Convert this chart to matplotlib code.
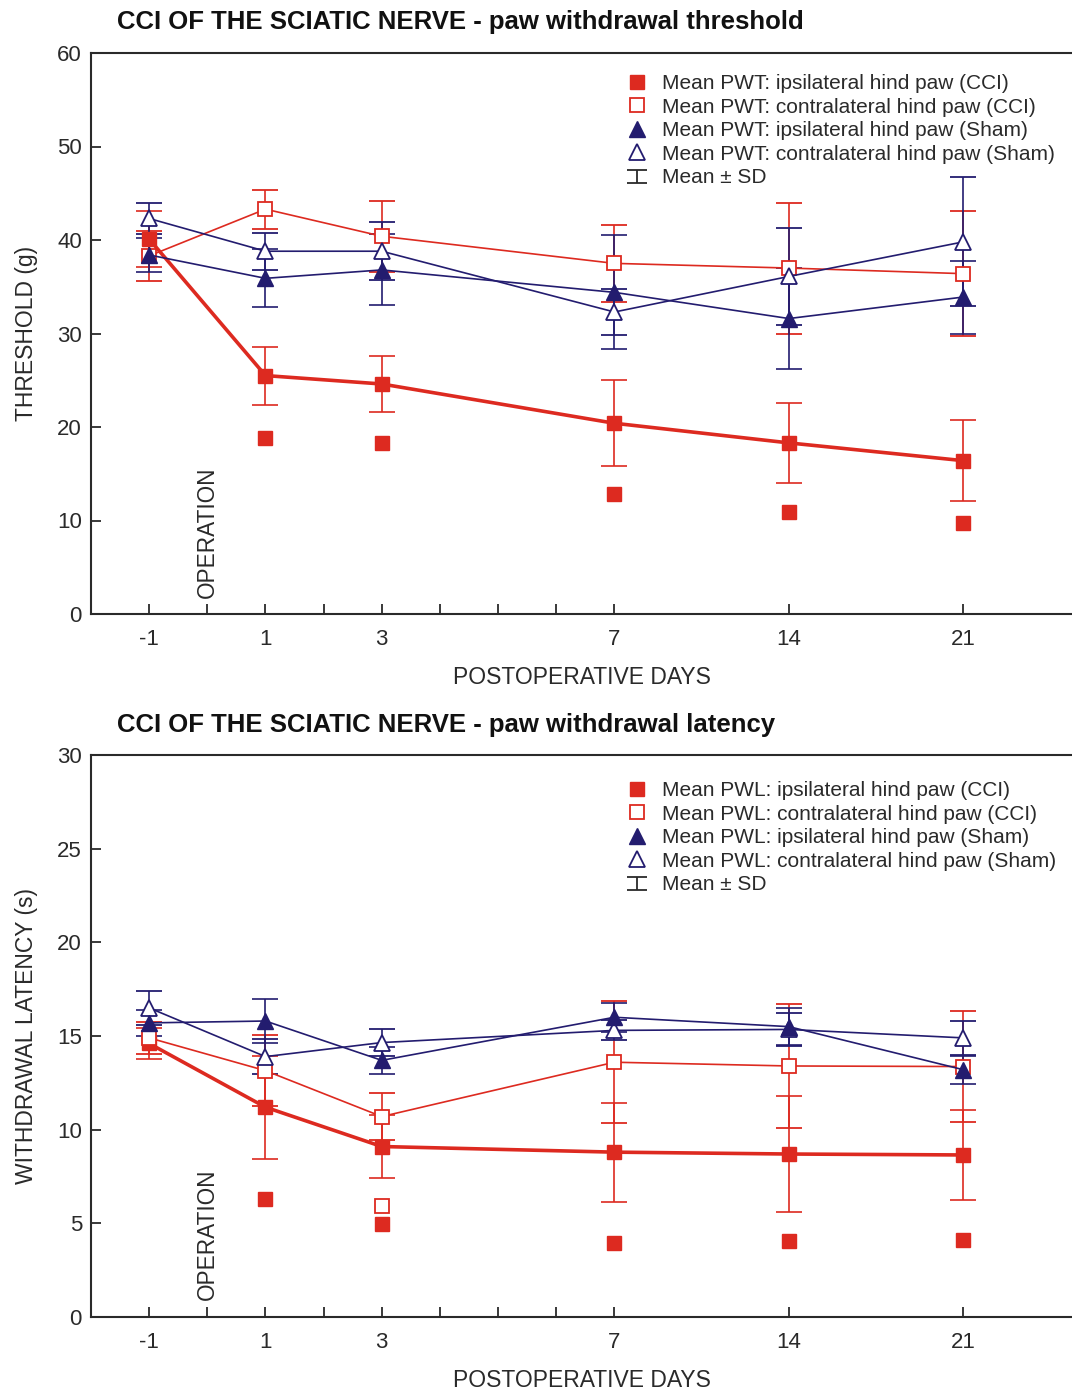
import numpy as np
import matplotlib
matplotlib.use("Agg")
import matplotlib.pyplot as plt
from matplotlib.lines import Line2D
from matplotlib.path import Path

plt.rcParams['font.family'] = ['Liberation Sans', 'DejaVu Sans']

# ---------------------------
# Data
# ---------------------------
days = [-1, 1, 3, 7, 14, 21]
nan = np.nan

# paw withdrawal threshold (g)
pwt_ipsi_cci = [40.1, 25.5, 24.6, 20.4, 18.3, 16.4]
pwt_ipsi_cci_sd = [3.0, 3.1, 3.0, 4.6, 4.3, 4.3]
pwt_ipsi_cci_low = [nan, 18.8, 18.3, 12.8, 10.9, 9.7]
pwt_contra_cci = [38.3, 43.3, 40.4, 37.5, 37.0, 36.4]
pwt_contra_cci_sd = [2.7, 2.1, 3.8, 4.1, 7.0, 6.7]
pwt_ipsi_sham = [38.4, 35.9, 36.8, 34.4, 31.6, 33.9]
pwt_ipsi_sham_sd = [1.8, 3.1, 3.8, 6.1, 5.4, 3.9]
pwt_contra_sham = [42.3, 38.8, 38.8, 32.3, 36.1, 39.8]
pwt_contra_sham_sd = [1.7, 2.0, 3.1, 2.5, 5.2, 6.9]

# paw withdrawal latency (s)
pwl_ipsi_cci = [14.6, 11.2, 9.1, 8.8, 8.7, 8.65]
pwl_ipsi_cci_sd = [0.85, 2.75, 1.7, 2.65, 3.1, 2.4]
pwl_ipsi_cci_low = [nan, 6.3, 4.95, 3.97, 4.07, 4.1]
pwl_contra_cci = [14.9, 13.15, 10.7, 13.6, 13.4, 13.37]
pwl_contra_cci_sd = [0.86, 1.9, 1.27, 3.25, 3.3, 2.97]
pwl_contra_cci_low = [nan, nan, 5.94, nan, nan, nan]
pwl_ipsi_sham = [15.7, 15.8, 13.7, 16.0, 15.5, 13.2]
pwl_ipsi_sham_sd = [0.7, 1.15, 0.72, 0.77, 1.0, 0.75]
pwl_contra_sham = [16.5, 13.9, 14.65, 15.3, 15.35, 14.9]
pwl_contra_sham_sd = [0.9, 0.93, 0.7, 0.53, 0.9, 0.92]

tick_days = [-1, 0, 1, 2, 3, 4, 5, 6, 7, 14, 21]
tick_labels = ['-1', '', '1', '', '3', '', '', '', '7', '14', '21']

RED = '#dd2a20'
NAVY = '#231c6f'
INK = '#2a2a2a'

# day axis: one slot per day up to day 7, then 3 slots per week
axis_days = [-2, 7, 28]
axis_slots = [-1, 8, 17]
def fwd(d): return np.interp(d, axis_days, axis_slots)
def inv(s): return np.interp(s, axis_slots, axis_days)

fig = plt.figure(figsize=(10.72, 13.9), dpi=100)
W, H = 1072, 1390
ax1 = fig.add_axes([91 / W, 1 - 614 / H, 1 - 91 / W, 561 / H])
ax2 = fig.add_axes([91 / W, 1 - 1317 / H, 1 - 91 / W, 562 / H])

eb = dict(capsize=9.4, elinewidth=1.2, capthick=1.2, zorder=3)

def draw_panel(ax, ipsi_cci, ipsi_cci_sd, contra_cci, contra_cci_sd,
               ipsi_sham, ipsi_sham_sd, contra_sham, contra_sham_sd):
    ax.errorbar(days, ipsi_cci, yerr=ipsi_cci_sd, color=RED, lw=2.6,
                marker='s', ms=10.5, mfc=RED, mec=RED, **eb)
    ax.errorbar(days, contra_cci, yerr=contra_cci_sd, color=RED, lw=1.2,
                marker='s', ms=10, mfc='white', mec=RED, mew=1.3, **eb)
    ax.errorbar(days, contra_sham, yerr=contra_sham_sd, color=NAVY, lw=1.2,
                marker='^', ms=12, mfc='white', mec=NAVY, mew=1.3, **eb)
    ax.errorbar(days, ipsi_sham, yerr=ipsi_sham_sd, color=NAVY, lw=1.2,
                marker='^', ms=12, mfc=NAVY, mec=NAVY, **eb)

draw_panel(ax1, pwt_ipsi_cci, pwt_ipsi_cci_sd, pwt_contra_cci, pwt_contra_cci_sd,
           pwt_ipsi_sham, pwt_ipsi_sham_sd, pwt_contra_sham, pwt_contra_sham_sd)
ax1.plot(days, pwt_ipsi_cci_low, 's', ms=10.5, color=RED, zorder=3)

draw_panel(ax2, pwl_ipsi_cci, pwl_ipsi_cci_sd, pwl_contra_cci, pwl_contra_cci_sd,
           pwl_ipsi_sham, pwl_ipsi_sham_sd, pwl_contra_sham, pwl_contra_sham_sd)
ax2.plot(days, pwl_ipsi_cci_low, 's', ms=10.5, color=RED, zorder=3)
ax2.plot(days, pwl_contra_cci_low, 's', ms=10, mfc='white', mec=RED, mew=1.3, zorder=3)

# legend symbol for Mean +- SD (short I-beam)
sd_path = Path([(-1, 0.65), (1, 0.65), (0, 0.65), (0, -0.65), (-1, -0.65), (1, -0.65)],
               [Path.MOVETO, Path.LINETO, Path.MOVETO, Path.LINETO, Path.MOVETO, Path.LINETO])

for ax, ymax, ystep, ylab, tag, op_y, leg_top in [
        (ax1, 60, 10, 'THRESHOLD (g)', 'PWT', 1.7, 74),
        (ax2, 30, 5, 'WITHDRAWAL LATENCY (s)', 'PWL', 0.9, 781)]:
    ax.set_xscale('function', functions=(fwd, inv))
    ax.set_xlim(-2, 25.36)
    ax.set_ylim(0, ymax)
    ax.set_xticks(tick_days)
    ax.set_xticklabels(tick_labels)
    ax.set_yticks(np.arange(0, ymax + 1, ystep))
    ax.tick_params(axis='x', direction='in', length=7, width=1.3, pad=10.5,
                   labelsize=16, colors=INK)
    ax.tick_params(axis='y', direction='in', length=7, width=1.3, pad=6.5,
                   labelsize=16, colors=INK)
    ax.minorticks_off()
    for s in ['left', 'top', 'bottom']:
        ax.spines[s].set_linewidth(1.5)
        ax.spines[s].set_color(INK)
    ax.spines['right'].set_visible(False)
    ax.set_xlabel('POSTOPERATIVE DAYS', fontsize=16.5, color=INK)
    ax.xaxis.set_label_coords(0.5, -0.092)
    ax.set_ylabel(ylab, fontsize=16.5, color=INK)
    ax.yaxis.set_label_coords(-0.054, 0.5)
    ax.text(0, op_y, 'OPERATION', rotation=90, ha='center', va='bottom',
            fontsize=16.3, color=INK)

    handles = [
        Line2D([], [], ls='none', marker='s', ms=10.5, color=RED),
        Line2D([], [], ls='none', marker='s', ms=10, mfc='white', mec=RED, mew=1.3),
        Line2D([], [], ls='none', marker='^', ms=12, color=NAVY),
        Line2D([], [], ls='none', marker='^', ms=12, mfc='white', mec=NAVY, mew=1.3),
        Line2D([], [], ls='none', marker=sd_path, ms=14.4, mfc='none', mec=INK, mew=1.3),
    ]
    labels = [f'Mean {tag}: ipsilateral hind paw (CCI)',
              f'Mean {tag}: contralateral hind paw (CCI)',
              f'Mean {tag}: ipsilateral hind paw (Sham)',
              f'Mean {tag}: contralateral hind paw (Sham)',
              'Mean \u00b1 SD']
    ax.legend(handles, labels, loc='upper left', bbox_to_anchor=(627 / W, 1 - leg_top / H),
              bbox_transform=fig.transFigure, frameon=False, fontsize=15,
              borderpad=0, borderaxespad=0, handlelength=1.0, handletextpad=0.7,
              labelspacing=0.22, labelcolor=INK)

fig.text(117 / W, 1 - 22 / H, 'CCI OF THE SCIATIC NERVE - paw withdrawal threshold',
         fontsize=18.5, fontweight='bold', va='center', color='#111111')
fig.text(117 / W, 1 - 725 / H, 'CCI OF THE SCIATIC NERVE - paw withdrawal latency',
         fontsize=18.5, fontweight='bold', va='center', color='#111111')

fig.savefig('out.png', dpi=100)
